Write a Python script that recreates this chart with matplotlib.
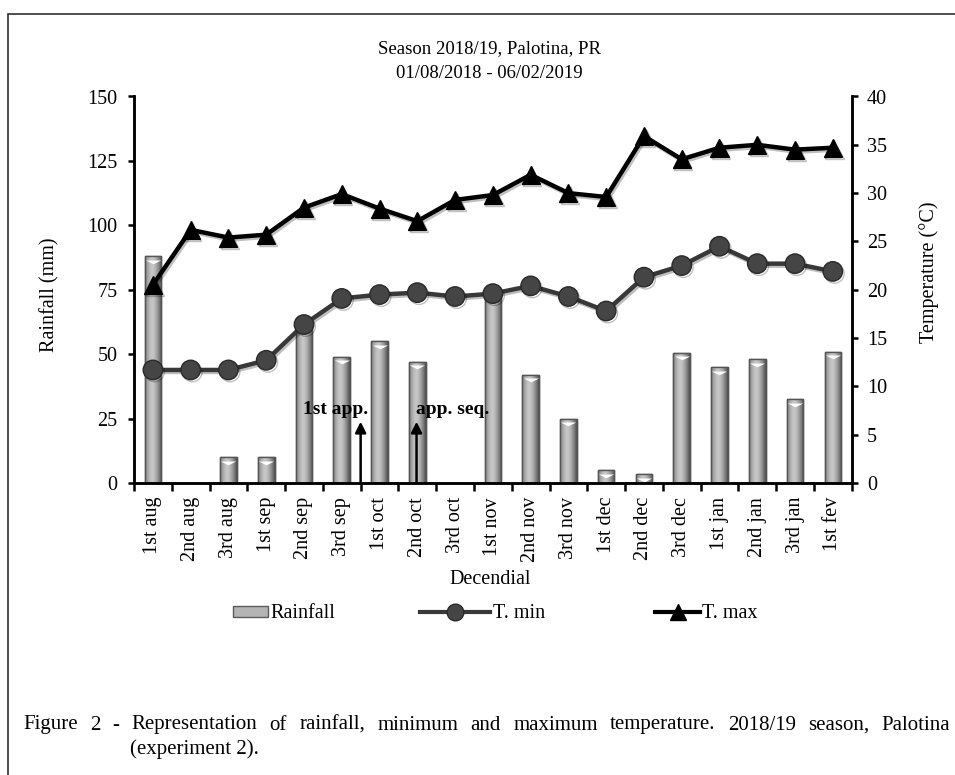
import numpy as np
import matplotlib.pyplot as plt
import matplotlib.transforms as mtrans
from matplotlib import patheffects as pe
from matplotlib.lines import Line2D
from matplotlib.patches import Patch, Rectangle
from matplotlib.path import Path

plt.rcParams['font.family'] = ['Liberation Serif', 'DejaVu Serif']

decendials = ['1st aug', '2nd aug', '3rd aug', '1st sep', '2nd sep', '3rd sep',
              '1st oct', '2nd oct', '3rd oct', '1st nov', '2nd nov', '3rd nov',
              '1st dec', '2nd dec', '3rd dec', '1st jan', '2nd jan', '3rd jan',
              '1st fev']
rainfall = [88, 0, 10, 10, 62, 49, 55, 47, 0, 74, 42, 25, 5, 3.4, 50.5, 45, 48, 32.5, 51]
t_min = [11.7, 11.7, 11.7, 12.7, 16.4, 19.1, 19.5, 19.7, 19.3, 19.6, 20.4, 19.3,
         17.8, 21.3, 22.5, 24.5, 22.7, 22.7, 21.9]
t_max = [20.5, 26.2, 25.4, 25.7, 28.5, 29.9, 28.4, 27.1, 29.3, 29.8, 31.9, 30.0,
         29.6, 35.9, 33.5, 34.7, 35.0, 34.5, 34.7]

# application dates (x position in decendial units, arrow tip in mm)
app_first = (5.5, 23.8)
app_seq = (6.98, 23.8)

W, H = 955, 775
fig = plt.figure(figsize=(W / 100, H / 100), dpi=100)

# page frame
fig.patches.append(Rectangle((8 / W, -0.05), 1.2, 1 - 14 / H + 0.05,
                             transform=fig.transFigure, fill=False,
                             lw=1.2, ec='#303030'))

ax = fig.add_axes([134 / W, 1 - 483 / H, (851.7 - 134) / W, (483 - 96.5) / H])
ax2 = ax.twinx()

x = np.arange(len(decendials))
rain = np.array(rainfall)

# rainfall bars with a cylinder-like shading
bars = ax.bar(x, rain, width=0.44, color='#a8a8a8', edgecolor='#5a5a5a',
              linewidth=1.0, zorder=2)
t = np.linspace(-1, 1, 64)
shade = (0.78 - 0.38 * np.abs(t + 0.15) ** 1.6)[None, :]
for b in bars:
    if b.get_height() <= 0:
        continue
    x0, y0 = b.get_x(), b.get_y()
    im = ax.imshow(shade, cmap='gray', vmin=0, vmax=1, aspect='auto',
                   extent=(x0, x0 + b.get_width(), y0, y0 + b.get_height()),
                   zorder=2.1, interpolation='bilinear')
    im.set_clip_path(b)
    edge = Rectangle((x0, y0), b.get_width(), b.get_height(), fill=False,
                     ec='#555555', lw=1.0, zorder=2.2)
    ax.add_patch(edge)

chevron = Path([(-1, 0), (1, 0), (0, -0.5), (-1, 0)],
               [Path.MOVETO, Path.LINETO, Path.LINETO, Path.CLOSEPOLY])
down = ax.transData + mtrans.ScaledTranslation(0, -2.5 / 72, fig.dpi_scale_trans)
mask = rain > 0
ax.plot(x[mask], rain[mask], ls='none', marker=chevron, ms=11, color='white',
        mec='none', transform=down, zorder=2.3)

ax.set_xlim(-0.5, len(decendials) - 0.5)
ax.set_ylim(0, 150)
ax.set_yticks(np.arange(0, 151, 25))

# temperature lines
shadow = [pe.SimpleLineShadow(offset=(1.2, -1.5), alpha=0.25), pe.Normal()]
ax2.plot(x, t_min, color='#383838', lw=3.2, marker='o', ms=14,
         mfc='#454545', mec='#2a2a2a', mew=1, path_effects=shadow, zorder=3)
ax2.plot(x, t_max, color='black', lw=3.2, marker='^', ms=13,
         mfc='black', mec='black', path_effects=shadow, zorder=4)
ax2.set_ylim(0, 40)
ax2.set_yticks(np.arange(0, 41, 5))

# application arrows
for (ax_x, tip) in (app_first, app_seq):
    ax.annotate('', xy=(ax_x, tip), xytext=(ax_x, 0),
                arrowprops=dict(arrowstyle='-|>', color='black', lw=1.8,
                                mutation_scale=16, shrinkA=0, shrinkB=0),
                zorder=5)
ax.text(5.70, 28.4, '1st app.', ha='right', va='center', fontsize=14,
        fontweight='bold', zorder=5)
ax.text(6.97, 28.4, 'app. seq.', ha='left', va='center', fontsize=14,
        fontweight='bold', zorder=5)

# axes styling
for a in (ax, ax2):
    a.spines['top'].set_visible(False)
    for s in ('left', 'right', 'bottom'):
        a.spines[s].set_linewidth(1.8)
ax.set_xticks(np.arange(-0.5, len(decendials), 1))
ax.set_xticklabels([])
ax.set_xticks(x, minor=True)
ax.set_xticklabels(decendials, minor=True, rotation=90, fontsize=14.5)
ax.tick_params(axis='x', which='major', direction='out', length=6, width=1.8)
ax.tick_params(axis='x', which='minor', length=0, pad=10)
ax.tick_params(axis='y', direction='out', length=4, width=1.8, pad=8,
               labelsize=14.5)
ax2.tick_params(axis='y', direction='out', length=4, width=1.8, pad=7,
                labelsize=14.5)

ax.set_ylabel('Rainfall (mm)', fontsize=14.5)
ax.yaxis.set_label_coords(-0.104, 0.486)
ax2.set_ylabel('Temperature (°C)', fontsize=14.5)
ax2.yaxis.set_label_coords(1.094, 0.546)

fig.text(490 / W, 1 - 580 / H, 'Decendial', ha='center', va='center',
         fontsize=14.5)
fig.text(489 / W, 1 - 49 / H, 'Season 2018/19, Palotina, PR', ha='center',
         va='center', fontsize=13.5)
fig.text(489 / W, 1 - 73 / H, '01/08/2018 - 06/02/2019', ha='center',
         va='center', fontsize=13.5)

# legend, one entry at a time so each handle keeps its own length
leg_y = 1 - 614 / H
entries = [
    (Patch(fc='#b4b4b4', ec='#5a5a5a', lw=1), 'Rainfall', 233, 1.75),
    (Line2D([], [], color='#383838', lw=3, marker='o', ms=12, mfc='#454545',
            mec='#2a2a2a'), 'T. min', 420, 3.5),
    (Line2D([], [], color='black', lw=3, marker='^', ms=12), 'T. max', 655, 2.25),
]
for handle, label, px, hl in entries:
    fig.legend([handle], [label], loc='center left',
               bbox_to_anchor=(px / W, leg_y), frameon=False, fontsize=14.5,
               handlelength=hl, handleheight=0.5, handletextpad=0.1,
               borderpad=0, borderaxespad=0)

# justified caption
caption = ('Figure 2 - Representation of rainfall, minimum and maximum '
           'temperature. 2018/19 season, Palotina')
renderer = fig.canvas.get_renderer()
words = caption.split()
texts = [fig.text(0, 1 - 725 / H, w, fontsize=15, va='center') for w in words]
widths = [tx.get_window_extent(renderer).width for tx in texts]
gap = (950 - 23 - sum(widths)) / (len(words) - 1)
pos = 23
for tx, w in zip(texts, widths):
    tx.set_x(pos / W)
    pos += w + gap
fig.text(130 / W, 1 - 749 / H, '(experiment 2).', fontsize=15, va='center')

fig.savefig('out.png', dpi=100)
